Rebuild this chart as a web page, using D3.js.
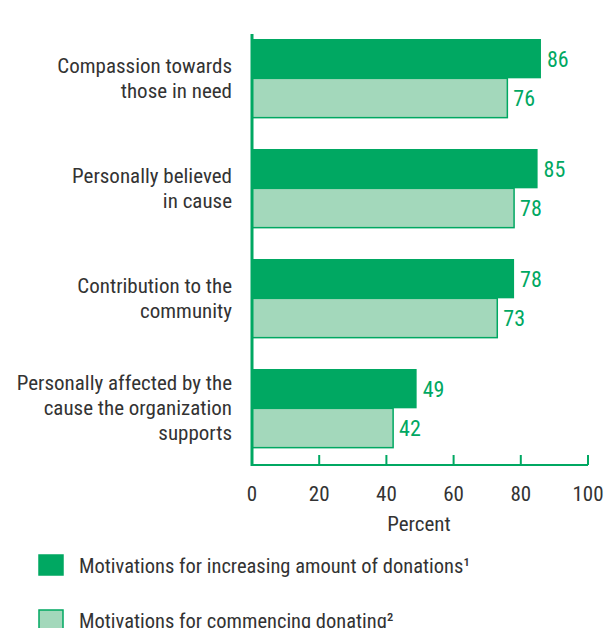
<!DOCTYPE html>
<html><head><meta charset="utf-8">
<script src="https://cdn.jsdelivr.net/npm/d3@7"></script>
<style>body{margin:0;background:#fff}text{font-family:"Liberation Sans Narrow","Roboto Condensed","Liberation Sans",sans-serif}</style>
</head><body><svg id="c" width="610" height="628"></svg>
<script>
const categories = [["Compassion towards","those in need"],["Personally believed","in cause"],["Contribution to the","community"],["Personally affected by the","cause the organization","supports"]];
const increasing = [86,85,78,49];
const commencing = [76,78,73,42];
const ticks = [0,20,40,60,80,100];
const seriesNames = ["Motivations for increasing amount of donations\u00b9","Motivations for commencing donating\u00b2"];

const dark="#00a862", light="#a3d8bb", txt="#333";
const svg=d3.select("#c");
const x=d3.scaleLinear().domain([0,100]).range([252,588]);
const y=d3.scaleBand().domain(d3.range(categories.length)).range([39,39+110*(4-0.285)]).paddingInner(0.285).paddingOuter(0);
const bh=y.bandwidth()/2;

categories.forEach((c,i)=>{
  const y0=y(i);
  svg.append("rect").attr("x",x(0)).attr("y",y0).attr("width",x(increasing[i])-x(0)).attr("height",bh).attr("fill",dark);
  svg.append("rect").attr("x",x(0)).attr("y",y0+bh).attr("width",x(commencing[i])-x(0)).attr("height",bh)
     .attr("fill",light).attr("stroke",dark).attr("stroke-width",1.5);
  svg.append("text").attr("x",x(increasing[i])+6).attr("y",y0+bh/2+8).attr("fill",dark).attr("font-size",22).text(increasing[i]);
  svg.append("text").attr("x",x(commencing[i])+6).attr("y",y0+bh*1.5+8).attr("fill",dark).attr("font-size",22).text(commencing[i]);
  const lines=c, lh=25, cy=y0+bh;
  const t=svg.append("text").attr("text-anchor","end").attr("fill",txt).attr("font-size",21);
  lines.forEach((l,k)=>t.append("tspan").attr("x",232).attr("y",cy-(lines.length-1)*lh/2+k*lh+7).text(l));
});

const ax=svg.append("g").attr("transform","translate(0,465)");
ax.append("line").attr("x1",x(0)).attr("x2",x(100)).attr("stroke",dark).attr("stroke-width",2);
ax.selectAll("line.t").data(ticks).enter().append("line").attr("x1",d=>x(d)).attr("x2",d=>x(d)).attr("y1",0).attr("y2",-10).attr("stroke",dark).attr("stroke-width",2);
ax.selectAll("text").data(ticks).enter().append("text").attr("x",d=>x(d)).attr("y",36).attr("text-anchor","middle").attr("fill",txt).attr("font-size",21).text(d=>d);
svg.append("line").attr("x1",x(0)).attr("x2",x(0)).attr("y1",34).attr("y2",466).attr("stroke",dark).attr("stroke-width",3);
svg.append("text").attr("x",(x(0)+x(100))/2-1).attr("y",531).attr("text-anchor","middle").attr("fill",txt).attr("font-size",21).text("Percent");

seriesNames.forEach((n,i)=>{
  const ly=555+i*55;
  svg.append("rect").attr("x",39).attr("y",ly).attr("width",24).attr("height",20).attr("fill",i?light:dark).attr("stroke",dark).attr("stroke-width",1.5);
  svg.append("text").attr("x",79).attr("y",ly+18).attr("fill",txt).attr("font-size",20.5).text(n);
});
</script></body></html>
